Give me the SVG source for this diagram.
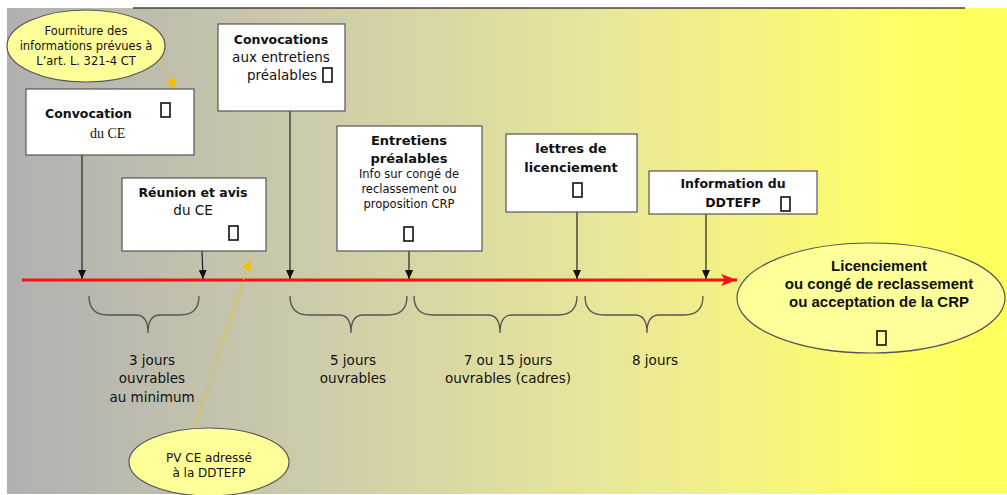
<svg xmlns="http://www.w3.org/2000/svg" width="1007" height="495" viewBox="0 0 1007 495">
  <defs>
    <linearGradient id="bg" x1="0" y1="0" x2="1" y2="0">
      <stop offset="0" stop-color="#b0b0b0"/>
      <stop offset="0.3" stop-color="#cccbaa"/>
      <stop offset="0.6" stop-color="#e9e79a"/>
      <stop offset="0.9" stop-color="#ffff66"/>
      <stop offset="1" stop-color="#ffff5c"/>
    </linearGradient>
    <marker id="tick" viewBox="0 0 9 8" refX="9" refY="4" markerWidth="9" markerHeight="8" markerUnits="userSpaceOnUse" orient="auto">
      <path d="M0,0 L9,4 L0,8 Z" fill="#111"/>
    </marker>
    <marker id="redhead" viewBox="0 0 16 12" refX="16" refY="6" markerWidth="16" markerHeight="12" markerUnits="userSpaceOnUse" orient="auto">
      <path d="M0,0 L16,6 L0,12 L4,6 Z" fill="#ff1010"/>
    </marker>
    <marker id="goldhead" viewBox="0 0 10 10" refX="10" refY="5" markerWidth="10" markerHeight="10" markerUnits="userSpaceOnUse" orient="auto">
      <path d="M0,0 L10,5 L0,10 Z" fill="#f2c000"/>
    </marker>
    <symbol id="tofu" viewBox="0 0 11 16" width="11" height="16">
      <rect x="1" y="1" width="9" height="14" fill="none" stroke="#111" stroke-width="1.6"/>
    </symbol>
  </defs>
  <style>
    .box { fill: #ffffff; stroke: #555555; stroke-width: 1.2; }
    .bubble { fill: #ffff99; stroke: #555555; stroke-width: 1.2; }
    .t { font-family: "DejaVu Sans", "Noto Sans", sans-serif; fill: #111; }
    .b { font-weight: bold; }
    .serif { font-family: "Liberation Serif", serif; fill: #111; }
    .arial { font-family: "Liberation Sans", Arial, sans-serif; font-weight: bold; fill: #111; }
    .link { stroke: #222; stroke-width: 1.2; fill: none; }
    .dash { stroke: #f2c000; stroke-width: 1.3; stroke-dasharray: 3 3; fill: none; }
    .brace { stroke: #555; stroke-width: 1.3; fill: none; }
  </style>

  <!-- backdrop -->
  <rect x="0" y="0" width="1007" height="495" fill="#ffffff"/>
  <rect x="7" y="8" width="1000" height="486" fill="url(#bg)"/>
  <line x1="133" y1="8" x2="965" y2="8" stroke="#444" stroke-width="1.6"/>

  <!-- connectors -->
  <g id="connectors">
    <line x1="22" y1="280" x2="737" y2="280" stroke="#ff1010" stroke-width="3" marker-end="url(#redhead)"/>
    <line class="link" x1="82" y1="155" x2="82" y2="279" marker-end="url(#tick)"/>
    <line class="link" x1="202" y1="251" x2="203" y2="279" marker-end="url(#tick)"/>
    <line class="link" x1="290" y1="111" x2="290" y2="279" marker-end="url(#tick)"/>
    <line class="link" x1="409" y1="251" x2="409" y2="279" marker-end="url(#tick)"/>
    <line class="link" x1="577" y1="212" x2="577" y2="279" marker-end="url(#tick)"/>
    <line class="link" x1="706" y1="214" x2="706" y2="279" marker-end="url(#tick)"/>
    <line class="dash" x1="162" y1="62" x2="175" y2="89" marker-end="url(#goldhead)"/>
    <line class="dash" x1="194" y1="428" x2="250" y2="260" marker-end="url(#goldhead)"/>
  </g>

  <!-- braces under the timeline -->
  <g id="braces">
    <path class="brace" d="M89,296 Q89,315 108,315 L136,315 Q148,315 148,333 Q148,315 160,315 L180,315 Q199,315 199,296"/>
    <path class="brace" d="M290,296 Q290,315 309,315 L339,315 Q351,315 351,333 Q351,315 363,315 L388,315 Q407,315 407,296"/>
    <path class="brace" d="M414,296 Q414,315 433,315 L488,315 Q500,315 500,333 Q500,315 512,315 L558,315 Q577,315 577,296"/>
    <path class="brace" d="M585,296 Q585,315 604,315 L635,315 Q647,315 647,333 Q647,315 659,315 L684,315 Q703,315 703,296"/>
  </g>

  <g id="delay-3" class="t" font-size="13.5" text-anchor="middle">
    <text x="152" y="365">3 jours</text>
    <text x="152" y="383">ouvrables</text>
    <text x="152" y="402">au minimum</text>
  </g>
  <g id="delay-5" class="t" font-size="13.5" text-anchor="middle">
    <text x="353" y="365">5 jours</text>
    <text x="353" y="383">ouvrables</text>
  </g>
  <g id="delay-7-15" class="t" font-size="13.5" text-anchor="middle">
    <text x="508" y="365">7 ou 15 jours</text>
    <text x="508" y="383">ouvrables (cadres)</text>
  </g>
  <g id="delay-8" class="t" font-size="13.5" text-anchor="middle">
    <text x="655" y="365">8 jours</text>
  </g>

  <!-- callout: information supplied -->
  <g id="info-fournie">
    <ellipse class="bubble" cx="86" cy="46" rx="79" ry="36"/>
    <g class="t" font-size="11.5" text-anchor="middle">
      <text x="86" y="35">Fourniture des</text>
      <text x="86" y="50">informations prévues à</text>
      <text x="86" y="65">L’art. L. 321-4 CT</text>
    </g>
  </g>

  <g id="convocation-ce">
    <rect class="box" x="26" y="89" width="168" height="66"/>
    <text class="t b" x="45" y="118" font-size="12.5">Convocation</text>
    <text class="serif" x="90" y="138" font-size="14">du CE</text>
    <use href="#tofu" x="160" y="102"/>
  </g>

  <g id="reunion-ce">
    <rect class="box" x="122" y="178" width="144" height="73"/>
    <text class="t b" x="193" y="197" font-size="12.5" text-anchor="middle">Réunion et avis</text>
    <text class="t" x="193" y="215" font-size="13.5" text-anchor="middle">du CE</text>
    <use href="#tofu" x="228" y="225"/>
  </g>

  <g id="convocations-entretiens">
    <rect class="box" x="218" y="24" width="127" height="87"/>
    <text class="t b" x="281" y="44" font-size="12.5" text-anchor="middle">Convocations</text>
    <text class="t" x="281" y="62" font-size="13.5" text-anchor="middle">aux entretiens</text>
    <text class="t" x="317" y="80" font-size="13.5" text-anchor="end">préalables</text>
    <use href="#tofu" x="322" y="67"/>
  </g>

  <g id="entretiens">
    <rect class="box" x="337" y="126" width="145" height="125"/>
    <text class="t b" x="409" y="145" font-size="13" text-anchor="middle">Entretiens</text>
    <text class="t b" x="409" y="163" font-size="13" text-anchor="middle">préalables</text>
    <g class="t" font-size="11.5" text-anchor="middle">
      <text x="409" y="178">Info sur congé de</text>
      <text x="409" y="193">reclassement ou</text>
      <text x="409" y="208">proposition CRP</text>
    </g>
    <use href="#tofu" x="403" y="226"/>
  </g>

  <g id="lettres-licenciement">
    <rect class="box" x="506" y="134" width="131" height="78"/>
    <text class="t b" x="571" y="153" font-size="13" text-anchor="middle">lettres de</text>
    <text class="t b" x="571" y="172" font-size="13" text-anchor="middle">licenciement</text>
    <use href="#tofu" x="572" y="182"/>
  </g>

  <g id="information-ddtefp">
    <rect class="box" x="649" y="171" width="168" height="43"/>
    <text class="t b" x="733" y="188" font-size="12.5" text-anchor="middle">Information du</text>
    <text class="t b" x="733" y="207" font-size="12.5" text-anchor="middle">DDTEFP</text>
    <use href="#tofu" x="780" y="196"/>
  </g>

  <g id="issue">
    <ellipse class="bubble" cx="871" cy="298" rx="134" ry="55"/>
    <g class="arial" font-size="15" text-anchor="middle">
      <text x="879" y="271">Licenciement</text>
      <text x="879" y="289">ou congé de reclassement</text>
      <text x="879" y="307">ou acceptation de la CRP</text>
    </g>
    <use href="#tofu" x="876" y="330"/>
  </g>

  <g id="pv-ce">
    <ellipse class="bubble" cx="209" cy="462" rx="80" ry="34"/>
    <g class="t" font-size="12" text-anchor="middle">
      <text x="209" y="462">PV CE adressé</text>
      <text x="209" y="477">à la DDTEFP</text>
    </g>
  </g>
</svg>
